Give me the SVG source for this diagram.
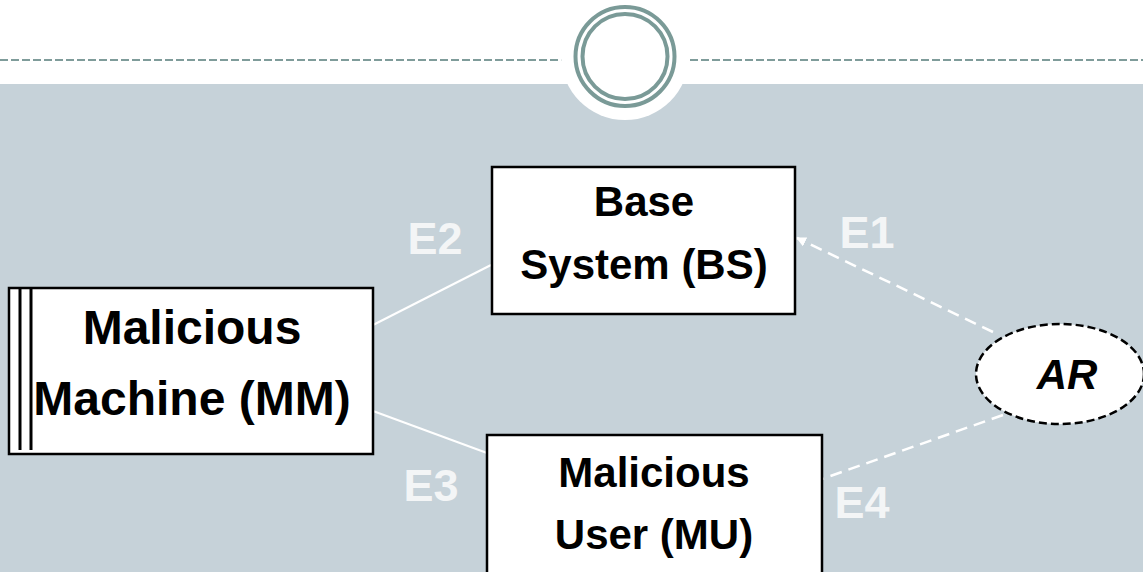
<svg xmlns="http://www.w3.org/2000/svg" width="1143" height="572" viewBox="0 0 1143 572">
<style>
.box{fill:#ffffff;stroke:#000000;stroke-width:2.5}
.t{font-family:"Liberation Sans",Arial,sans-serif;font-weight:bold;fill:#000000;text-anchor:middle}
.e{font-family:"Liberation Sans",Arial,sans-serif;font-weight:bold;fill:#f3f5f6;font-size:45px;text-anchor:middle}
.solid{stroke:#ffffff;stroke-width:2;fill:none}
.dash{stroke:#ffffff;stroke-width:2.5;fill:none;stroke-dasharray:12 7}
</style>
<defs>
<marker id="arr" viewBox="0 0 10 10" refX="9" refY="5" markerWidth="4" markerHeight="4" orient="auto">
<path d="M0,0 L10,5 L0,10 z" fill="#ffffff"/>
</marker>
</defs>
<g id="background">
<rect x="0" y="0" width="1143" height="572" fill="#ffffff"/>
<rect x="0" y="84" width="1143" height="488" fill="#c6d2d9"/>
<line x1="0" y1="60" x2="562" y2="60" stroke="#7f9c9a" stroke-width="2" stroke-dasharray="8 3"/>
<line x1="690" y1="60" x2="1143" y2="60" stroke="#7f9c9a" stroke-width="2" stroke-dasharray="8 3"/>
<circle cx="625" cy="56" r="64" fill="#ffffff"/>
<circle cx="625" cy="56.5" r="49.5" fill="none" stroke="#7a9a97" stroke-width="4"/>
<circle cx="625" cy="56.5" r="42.5" fill="none" stroke="#7a9a97" stroke-width="4"/>
</g>
<g id="connectors">
<line class="solid" x1="373" y1="325" x2="491" y2="265"/>
<line class="solid" x1="373" y1="411" x2="487" y2="453"/>
<line class="dash" x1="993" y1="332" x2="797" y2="238" marker-end="url(#arr)"/>
<line class="dash" x1="1003" y1="415" x2="822" y2="479"/>
<text class="e" x="435" y="254">E2</text>
<text class="e" x="867" y="248">E1</text>
<text class="e" x="431" y="501">E3</text>
<text class="e" x="862" y="518">E4</text>
</g>
<g id="node-mm">
<rect class="box" x="9" y="288" width="364" height="166"/>
<line x1="20" y1="287" x2="20" y2="450" stroke="#000" stroke-width="3"/>
<line x1="31" y1="287" x2="31" y2="450" stroke="#000" stroke-width="3"/>
<text class="t" x="192" y="344" font-size="48">Malicious</text>
<text class="t" x="192" y="415" font-size="48">Machine (MM)</text>
</g>
<g id="node-bs">
<rect class="box" x="492" y="167" width="303" height="147"/>
<text class="t" x="644" y="216" font-size="42">Base</text>
<text class="t" x="644" y="279" font-size="42">System (BS)</text>
</g>
<g id="node-mu">
<rect class="box" x="487" y="435" width="335" height="170"/>
<text class="t" x="654" y="487" font-size="42">Malicious</text>
<text class="t" x="654" y="549" font-size="42">User (MU)</text>
</g>
<g id="node-ar">
<ellipse cx="1060" cy="374" rx="84" ry="50" fill="#ffffff" stroke="#000" stroke-width="2.5" stroke-dasharray="8 4"/>
<text class="t" x="1067" y="389" font-size="42" font-style="italic">AR</text>
</g>
</svg>
